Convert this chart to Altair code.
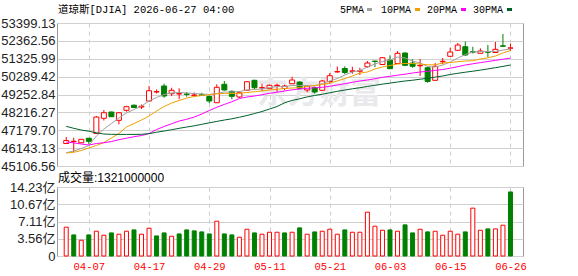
import altair as alt
import pandas as pd
import numpy as np

# ---------------- data ----------------
dates = ["04-01","04-02","04-06","04-07","04-08","04-09","04-10","04-13","04-14","04-15",
         "04-16","04-17","04-20","04-21","04-22","04-23","04-24","04-27","04-28","04-29",
         "04-30","05-01","05-04","05-05","05-06","05-07","05-08","05-11","05-12","05-13",
         "05-14","05-15","05-18","05-19","05-20","05-21","05-22","05-26","05-27","05-28",
         "05-29","06-01","06-02","06-03","06-04","06-05","06-08","06-09","06-10","06-11",
         "06-12","06-15","06-16","06-17","06-18","06-22","06-23","06-24","06-25","06-26"]

open_price = [46410, 46526, 46451, 46717, 46990, 47872, 48237, 47756, 48336, 48631,
              48527, 48875, 49397, 49745, 49298, 49281, 49281, 49206, 49235, 49136,
              48776, 49844, 49438, 49107, 49496, 50076, 49635, 49588, 49774, 49600,
              49878, 49977, 49513, 49646, 49496, 50006, 50563, 50760, 50603, 50603,
              50864, 51189, 50992, 51253, 51050, 51659, 51079, 50917, 50806, 50076,
              51149, 51468, 51816, 52024, 51729, 51642, 51729, 51688, 52077, 51937]
high_price = [46787, 46746, 46671, 46729, 48005, 48353, 48266, 48237, 48602, 48672,
              48672, 49745, 49542, 49878, 49646, 49612, 49397, 49368, 49356, 49194,
              49844, 50035, 49484, 49426, 50035, 50110, 49878, 49832, 49878, 49832,
              50284, 50006, 49774, 49716, 50093, 50499, 50876, 50888, 50864, 50806,
              51195, 51207, 51427, 51526, 51775, 51688, 51294, 51311, 50847, 51079,
              51369, 51966, 52239, 52326, 52019, 51932, 52123, 52297, 52761, 52198]
low_price = [46381, 45917, 46427, 46381, 46961, 47744, 47947, 47524, 48254, 48469,
             48411, 48846, 49310, 49066, 49165, 48974, 49124, 49107, 49165, 48742,
             48759, 49484, 48974, 49049, 49472, 49554, 49455, 49571, 49414, 49496,
             49861, 49554, 49380, 49298, 49455, 49861, 50516, 50424, 50458, 50383,
             50818, 50847, 50963, 50731, 51021, 50905, 50806, 50325, 49936, 50035,
             51004, 51444, 51792, 51485, 51630, 51630, 51427, 51676, 52007, 51775]
close_price = [46584, 46543, 46654, 46538, 47947, 48196, 47964, 48196, 48544, 48498,
               48573, 49472, 49420, 49165, 49496, 49304, 49258, 49223, 49206, 48875,
               49670, 49513, 49148, 49356, 49994, 49646, 49652, 49786, 49791, 49745,
               50093, 49612, 49745, 49397, 50035, 50342, 50580, 50528, 50621, 50627,
               51079, 51172, 51386, 50748, 51642, 50946, 50888, 50940, 50006, 50888,
               51178, 51717, 52123, 51543, 51711, 51775, 51705, 51874, 52053, 51955]
# volume in 亿 (1e8 shares)
volume_yi = [5.94, 4.35, 3.25, 4.35, 5.11, 4.28, 4.76, 4.49, 5.11, 5.38,
             4.49, 5.73, 4.14, 4.76, 4.07, 4.55, 5.38, 5.18, 4.97, 4.55,
             7.18, 4.55, 4.35, 3.87, 5.52, 4.76, 4.49, 4.90, 4.90, 4.76,
             4.90, 5.80, 4.49, 4.97, 5.11, 5.52, 4.49, 5.38, 4.90, 4.90,
             9.04, 6.14, 5.31, 5.38, 5.11, 6.42, 4.76, 5.52, 4.97, 5.11,
             4.28, 5.11, 4.49, 4.97, 9.87, 5.31, 5.59, 5.59, 6.35, 13.21]

ma5 = [45876, 45975, 46120, 46294, 46845, 47251, 47570, 47889, 48179, 48382,
       48585, 48875, 49078, 49252, 49339, 49368, 49339, 49310, 49281, 49252,
       49310, 49397, 49397, 49426, 49513, 49542, 49571, 49658, 49716, 49716,
       49774, 49774, 49774, 49745, 49890, 50035, 50180, 50383, 50557, 50644,
       50847, 51021, 51166, 51253, 51427, 51369, 51195, 51079, 50876, 50847,
       50963, 51137, 51369, 51572, 51717, 51746, 51746, 51746, 51833, 51891]
ma10 = [45859, 45900, 46004, 46149, 46294, 46468, 46729, 46990, 47367, 47570,
        47773, 48005, 48295, 48556, 48759, 48904, 49049, 49136, 49194, 49235,
        49298, 49316, 49310, 49322, 49368, 49414, 49455, 49513, 49554, 49600,
        49629, 49658, 49716, 49774, 49832, 49919, 50035, 50180, 50325, 50499,
        50557, 50731, 50847, 50934, 51021, 51050, 51050, 51021, 50975, 50975,
        51079, 51108, 51154, 51195, 51212, 51311, 51381, 51485, 51659, 51804]
ma20 = [46497, 46451, 46381, 46323, 46410, 46456, 46526, 46630, 46717, 46804,
        46874, 46990, 47222, 47396, 47558, 47715, 47814, 47947, 48121, 48324,
        48510, 48678, 48834, 49020, 49107, 49165, 49240, 49322, 49385, 49455,
        49525, 49571, 49612, 49641, 49670, 49728, 49803, 49878, 49960, 50035,
        50093, 50168, 50250, 50308, 50371, 50429, 50499, 50557, 50598, 50650,
        50702, 50777, 50864, 50963, 51033, 51102, 51166, 51230, 51299, 51363]
ma30 = [47408, 47292, 47193, 47123, 47031, 46961, 46944, 46938, 46938, 46938,
        46944, 46984, 47065, 47135, 47210, 47292, 47367, 47437, 47524, 47611,
        47692, 47773, 47843, 47935, 48034, 48150, 48266, 48411, 48556, 48771,
        48910, 49003, 49113, 49200, 49269, 49351, 49438, 49513, 49583, 49646,
        49722, 49786, 49855, 49913, 49977, 50035, 50081, 50139, 50192, 50261,
        50325, 50412, 50482, 50545, 50603, 50667, 50737, 50806, 50882, 50963]

ma_names = ["5PMA", "10PMA", "20PMA", "30PMA"]
price_ticks = [45106.56, 46143.13, 47179.70, 48216.27, 49252.84,
               50289.42, 51325.99, 52362.56, 53399.13]
volume_ticks = [0, 3.56, 7.11, 10.67, 14.23]
label_dates = ["04-07", "04-17", "04-29", "05-11", "05-21", "06-03", "06-15", "06-26"]
title_text = "道琼斯[DJIA] 2026-06-27 04:00"

# ---------------- styling ----------------
RED = "#ff0000"
GREEN = "#008000"
MA_COLORS = ["#a0a0a0", "#f0a000", "#ff00ff", "#00602a"]
W, H_PRICE, H_VOL = 466, 143, 69
MONO = "Liberation Mono, Noto Sans CJK SC"
SANS = "Liberation Sans, Noto Sans CJK SC"

n = len(dates)
idx = list(range(1, n + 1))
df = pd.DataFrame({"idx": idx, "date": dates, "open": open_price, "high": high_price,
                   "low": low_price, "close": close_price, "vol": volume_yi})
up = df["close"] >= df["open"]
prev = df["close"].shift(1)
vup = (df["close"] >= prev) | prev.isna()
df["cstroke"] = np.where(up, RED, GREEN)
df["cfill"] = np.where(up, "#ffffff", GREEN)
df["vstroke"] = np.where(vup, RED, GREEN)
df["vfill"] = np.where(vup, "#ffffff", GREEN)

ma_df = pd.DataFrame({
    "idx": idx * 4,
    "series": sum([[nm] * n for nm in ma_names], []),
    "value": ma5 + ma10 + ma20 + ma30,
})

label_idx = [dates.index(d) + 1 for d in label_dates]
date_expr = "[" + ",".join("'%s'" % d for d in dates) + "][datum.value - 1]"

xscale = alt.Scale(domain=[0.44, 61.0], nice=False, zero=False)
x_price = alt.X("idx:Q", scale=xscale,
                axis=alt.Axis(values=label_idx, labels=False, ticks=False, domain=False,
                              grid=True, gridDash=[4, 4], gridColor="#cccccc", title=None))
yscale = alt.Scale(domain=[45106.56, 53399.13], nice=False, zero=False)
y_axis = alt.Axis(values=price_ticks, format=".2f", title=None, ticks=False, domain=False,
                  grid=True, gridColor="#d0d0d0", labelFontSize=13, labelFont=SANS,
                  labelColor="#222222", labelPadding=2, labelOverlap=False, labelFlush=False,
                  minExtent=56, maxExtent=56)


def text_at(text, x, y, size, font, color="#000000", weight="normal"):
    return alt.Chart(pd.DataFrame({"t": [text]})).mark_text(
        align="left", baseline="middle", fontSize=size, font=font, color=color,
        fontWeight=weight
    ).encode(text="t:N", x=alt.value(x), y=alt.value(y))


def swatch(x1, x2, y, color):
    return alt.Chart(pd.DataFrame({"a": [0]})).mark_rule(strokeWidth=3, color=color).encode(
        x=alt.value(x1), x2=alt.value(x2), y=alt.value(y))


watermark = alt.Chart(pd.DataFrame({"t": ["东方财富"]})).mark_text(
    align="center", baseline="middle", fontSize=31, fontWeight="bold",
    font="Noto Sans CJK SC", color="#e9e9ec"
).encode(text="t:N", x=alt.value(262), y=alt.value(71))

wicks = alt.Chart(df).mark_rule(strokeWidth=1).encode(
    x=x_price, y=alt.Y("low:Q", scale=yscale, axis=y_axis), y2="high:Q",
    color=alt.Color("cstroke:N", scale=None))
bodies = alt.Chart(df).mark_bar(size=5, strokeWidth=1).encode(
    x=x_price, y=alt.Y("open:Q", scale=yscale, axis=y_axis), y2="close:Q",
    fill=alt.Fill("cfill:N", scale=None), stroke=alt.Stroke("cstroke:N", scale=None))
lines = alt.Chart(ma_df).mark_line(strokeWidth=1).encode(
    x=x_price, y=alt.Y("value:Q", scale=yscale, axis=y_axis),
    color=alt.Color("series:N", scale=alt.Scale(domain=ma_names, range=MA_COLORS), legend=None),
    detail="series:N")

legend_layers = []
legend_x = [283, 324, 370, 416]
swatch_x = [(310, 315), (358, 363), (404, 409), (450, 455)]
for nm, lx, (s1, s2), col in zip(ma_names, legend_x, swatch_x, MA_COLORS):
    legend_layers.append(text_at(nm, lx, -13.5, 10, MONO))
    legend_layers.append(swatch(s1, s2, -13.5, col))

price = alt.layer(
    watermark, wicks, bodies, lines,
    text_at(title_text, 1, -13, 10.5, MONO),
    *legend_layers
).properties(width=W, height=H_PRICE)

x_vol = alt.X("idx:Q", scale=xscale,
              axis=alt.Axis(values=label_idx, labelExpr=date_expr, labelColor=RED,
                            labelFont="Liberation Mono", labelFontSize=10.5, ticks=False,
                            domain=False, grid=True, gridDash=[4, 4], gridColor="#cccccc",
                            labelPadding=5, title=None, labelFlush=False, labelOverlap=False))
vol_y = alt.Y("vol:Q", scale=alt.Scale(domain=[0, 14.23], nice=False, zero=True),
              axis=alt.Axis(values=volume_ticks, title=None, ticks=False, domain=False,
                            labelExpr="datum.value == 0 ? '0' : format(datum.value, '.2f') + '亿'",
                            grid=True, gridColor="#d0d0d0", labelFontSize=13, labelFont=SANS,
                            labelColor="#222222", labelPadding=2, labelOverlap=False,
                            labelFlush=False, minExtent=56, maxExtent=56))
vbars = alt.Chart(df).mark_bar(size=4, strokeWidth=1).encode(
    x=x_vol, y=vol_y,
    fill=alt.Fill("vfill:N", scale=None), stroke=alt.Stroke("vstroke:N", scale=None))

vol_label = "成交量:%d" % int(round(volume_yi[-1] * 1e8))
volume = alt.layer(vbars, text_at(vol_label, 1, -9, 12, SANS)).properties(width=W, height=H_VOL)

chart = alt.vconcat(price, volume, spacing=21, bounds="flush").properties(
    padding={"left": 0, "top": 4, "right": 4, "bottom": 2}
).configure_view(stroke="#999999", strokeWidth=1)

chart.save("out.html", embed_options={"renderer": "svg", "actions": False})
